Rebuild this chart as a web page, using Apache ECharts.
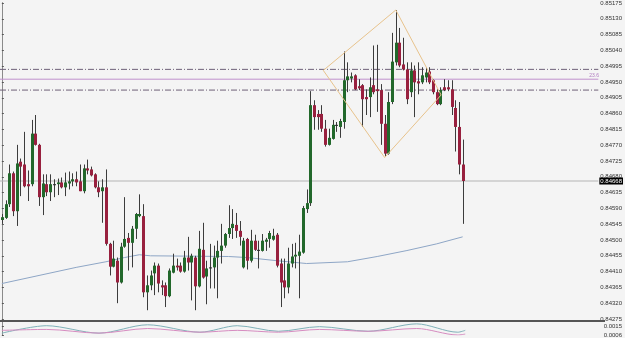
<!DOCTYPE html>
<html><head><meta charset="utf-8">
<script src="https://cdn.jsdelivr.net/npm/echarts/dist/echarts.min.js"></script>
<style>html,body{margin:0;padding:0;background:#f4f4f4}#c{width:625px;height:338px}</style>
</head><body><div id="c"></div>
<script>
// ---- data (prices) ----
const opens = [0.84557,0.84563,0.84602,0.84690,0.84582,0.84723,0.84715,0.84659,0.84659,0.84803,
0.84771,0.84622,0.84659,0.84636,0.84659,0.84659,0.84664,0.84650,0.84661,0.84667,
0.84673,0.84667,0.84639,0.84704,0.84701,0.84687,0.84650,0.84639,0.84650,0.84489,
0.84424,0.84441,0.84379,0.84481,0.84506,0.84492,0.84532,0.84568,0.84568,0.84351,
0.84371,0.84405,0.84427,0.84371,0.84371,0.84340,0.84407,0.84427,0.84427,0.84410,
0.84450,0.84436,0.84450,0.84368,0.84472,0.84396,0.84419,0.84422,0.84450,0.84469,
0.84484,0.84517,0.84534,0.84543,0.84526,0.84422,0.84503,0.84441,0.84498,0.84472,
0.84469,0.84495,0.84503,0.84501,0.84515,0.84433,0.84385,0.84365,0.84433,0.84453,
0.84455,0.84464,0.84588,0.84605,0.84884,0.84859,0.84859,0.84817,0.84771,0.84788,
0.84825,0.84822,0.84836,0.84955,0.84960,0.84969,0.84938,0.84941,0.84907,0.84907,
0.84941,0.84929,0.84927,0.84831,0.84746,0.84893,0.85006,0.85062,0.85000,0.84986,
0.84921,0.84983,0.84952,0.84949,0.84963,0.84980,0.84955,0.84921,0.84887,0.84935,
0.84935,0.84929,0.84876,0.84822,0.84715];
const closes = [0.84565,0.84602,0.84690,0.84582,0.84718,0.84709,0.84653,0.84653,0.84803,0.84771,
0.84622,0.84661,0.84636,0.84659,0.84656,0.84664,0.84650,0.84664,0.84667,0.84673,
0.84664,0.84639,0.84704,0.84698,0.84684,0.84650,0.84636,0.84650,0.84489,0.84424,
0.84447,0.84379,0.84481,0.84503,0.84492,0.84532,0.84574,0.84574,0.84351,0.84371,
0.84399,0.84427,0.84376,0.84365,0.84340,0.84413,0.84427,0.84422,0.84410,0.84450,
0.84436,0.84455,0.84368,0.84475,0.84393,0.84419,0.84422,0.84450,0.84469,0.84484,
0.84517,0.84534,0.84546,0.84526,0.84509,0.84498,0.84441,0.84498,0.84472,0.84469,
0.84498,0.84501,0.84520,0.84512,0.84427,0.84379,0.84365,0.84433,0.84453,0.84458,
0.84467,0.84591,0.84605,0.84884,0.84850,0.84850,0.84817,0.84771,0.84791,0.84828,
0.84828,0.84839,0.84955,0.84966,0.84966,0.84929,0.84932,0.84901,0.84901,0.84935,
0.84921,0.84924,0.84831,0.84746,0.84893,0.85008,0.85062,0.84997,0.84986,0.84901,
0.84983,0.84949,0.84946,0.84969,0.84977,0.84949,0.84921,0.84887,0.84927,0.84927,
0.84929,0.84879,0.84822,0.84715,0.84668];
const lows = [0.84546,0.84560,0.84594,0.84568,0.84540,0.84625,0.84650,0.84611,0.84653,0.84769,
0.84597,0.84571,0.84625,0.84611,0.84622,0.84628,0.84647,0.84625,0.84644,0.84653,
0.84653,0.84639,0.84633,0.84687,0.84681,0.84647,0.84622,0.84549,0.84484,0.84399,
0.84422,0.84320,0.84376,0.84478,0.84413,0.84422,0.84503,0.84565,0.84337,0.84300,
0.84357,0.84343,0.84351,0.84343,0.84309,0.84337,0.84405,0.84413,0.84407,0.84407,
0.84413,0.84328,0.84300,0.84365,0.84390,0.84317,0.84362,0.84362,0.84334,0.84433,
0.84478,0.84506,0.84503,0.84506,0.84484,0.84419,0.84416,0.84436,0.84469,0.84419,
0.84467,0.84469,0.84478,0.84498,0.84422,0.84309,0.84334,0.84348,0.84422,0.84419,
0.84334,0.84461,0.84577,0.84597,0.84814,0.84814,0.84808,0.84766,0.84769,0.84786,
0.84808,0.84791,0.84817,0.84921,0.84949,0.84927,0.84927,0.84822,0.84856,0.84850,
0.84915,0.84865,0.84771,0.84738,0.84743,0.84887,0.84997,0.84992,0.84983,0.84887,
0.84907,0.84850,0.84915,0.84944,0.84949,0.84944,0.84915,0.84884,0.84884,0.84924,
0.84924,0.84856,0.84752,0.84687,0.84546];
const highs = [0.84574,0.84613,0.84715,0.84695,0.84771,0.84732,0.84808,0.84698,0.84842,0.84856,
0.84774,0.84687,0.84687,0.84687,0.84673,0.84675,0.84678,0.84692,0.84695,0.84690,
0.84695,0.84715,0.84715,0.84729,0.84709,0.84690,0.84667,0.84673,0.84701,0.84492,
0.84498,0.84450,0.84492,0.84622,0.84520,0.84540,0.84577,0.84630,0.84602,0.84399,
0.84413,0.84436,0.84433,0.84385,0.84379,0.84419,0.84461,0.84447,0.84436,0.84469,
0.84509,0.84461,0.84455,0.84526,0.84549,0.84441,0.84489,0.84484,0.84498,0.84546,
0.84520,0.84599,0.84588,0.84577,0.84554,0.84506,0.84506,0.84529,0.84515,0.84498,
0.84517,0.84506,0.84526,0.84532,0.84520,0.84447,0.84447,0.84478,0.84489,0.84492,
0.84515,0.84597,0.84644,0.84924,0.84898,0.84870,0.84884,0.84842,0.84817,0.84842,
0.84836,0.84845,0.85037,0.85006,0.84977,0.84972,0.84958,0.84944,0.84929,0.84963,
0.85054,0.85056,0.84944,0.84856,0.84921,0.85090,0.85155,0.85104,0.85076,0.85006,
0.85006,0.84997,0.85006,0.84992,0.84992,0.84992,0.84958,0.84929,0.84935,0.84958,
0.84955,0.84955,0.84898,0.84893,0.84786];

// moving average, read at some bars
const maIndex = [0,10,20,28,33,37,40,61,66,74,82,93,101,109,117,124];
const maValue = [0.84376,0.84399,0.84422,0.84438,0.84450,0.84458,0.84455,0.84453,0.84450,0.84441,0.84433,0.84438,0.84453,0.84470,0.84489,0.84509];

// oscillator sub-window, read at some bars
const oscIndex = [0,12,26,39,53,63,74,85,98,111,122,124];
const oscTeal  = [0.0008,0.0016,0.0008,0.0017,0.0009,0.0016,0.0010,0.0015,0.0010,0.0018,0.0009,0.0011];
const oscPink  = [0.0011,0.0012,0.0008,0.0013,0.0009,0.0011,0.0009,0.0012,0.0010,0.0013,0.0006,0.0007];

// horizontal levels
const levelDashTop = 0.84986;
const levelFib236 = 0.84958;
const levelDashBottom = 0.84927;
const lastPrice = 0.84668;
const fibText = '23.6';

// diamond pattern vertices (bar index, price)
const diamondIndex = [86.5, 106, 118.2, 103, 86.5];
const diamondPrice = [0.84983, 0.85155, 0.84913, 0.84735, 0.84983];

// axis
const priceMin = 0.84275, priceMax = 0.85176, priceStep = 0.00045;
const oscMin = 0.0006, oscMax = 0.0020, oscStep = 0.0009;
const totalSlots = 161;

const GREEN = '#22682b', RED = '#98203e', WICK = '#3c3c3c';
const X0 = -0.5, X1 = totalSlots - 0.5;

const candleData = opens.map((o, i) => [i, o, closes[i], lows[i], highs[i]]);

function hLine(v, color, type, extra) {
  return Object.assign({
    type: 'line', xAxisIndex: 0, yAxisIndex: 0, symbol: 'none', silent: true, z: 2,
    data: [[X0, v], [X1, v]], lineStyle: {color: color, width: 1, type: type}
  }, extra || {});
}

const chart = echarts.init(document.getElementById('c'), null, {renderer: 'canvas'});
chart.setOption({
  animation: false,
  backgroundColor: '#f4f4f4',
  grid: [
    {left: 0, right: 20, top: 0, height: 319},
    {left: 0, right: 20, top: 322, height: 14}
  ],
  xAxis: [
    {type: 'value', gridIndex: 0, min: X0, max: X1, show: false},
    {type: 'value', gridIndex: 1, min: X0, max: X1, show: false}
  ],
  yAxis: [
    {type: 'value', gridIndex: 0, position: 'right', min: priceMin, max: priceMax, interval: priceStep,
     axisLine: {show: true, lineStyle: {color: '#8a8a8a', width: 1}},
     axisTick: {show: true, length: 2, lineStyle: {color: '#555'}},
     splitLine: {show: false},
     axisLabel: {fontSize: 6, color: '#333', margin: 2, fontFamily: 'Liberation Sans',
       showMaxLabel: false, formatter: v => v.toFixed(5)}},
    {type: 'value', gridIndex: 1, position: 'right', min: oscMin, max: oscMax, interval: oscStep,
     axisLine: {show: true, lineStyle: {color: '#8a8a8a', width: 1}},
     axisTick: {show: true, length: 2, lineStyle: {color: '#555'}},
     splitLine: {show: false},
     axisLabel: {fontSize: 6, color: '#333', margin: 2, fontFamily: 'Liberation Sans',
       showMaxLabel: false, formatter: v => v.toFixed(4)}}
  ],
  graphic: [
    {type: 'rect', left: 0, top: 320, shape: {width: 605, height: 2}, style: {fill: '#555'}, z: 100}
  ],
  series: [
    {
      type: 'line', xAxisIndex: 0, yAxisIndex: 0, symbol: 'none', silent: true,
      data: maIndex.map((i, k) => [i, maValue[k]]),
      lineStyle: {color: '#8ea6c6', width: 1}, z: 1
    },
    hLine(levelDashTop, '#6e6078', [6, 2, 1, 2]),
    hLine(levelDashBottom, '#6e6078', [6, 2, 1, 2]),
    hLine(levelFib236, '#bf90cc', 'solid', {
      endLabel: {show: true, formatter: fibText, fontSize: 5, color: '#b07cc0', fontFamily: 'Liberation Sans',
                 offset: [-9, -4], distance: 0}
    }),
    hLine(lastPrice, '#b4b4b4', 'solid', {
      endLabel: {show: true, formatter: lastPrice.toFixed(5), fontSize: 6, color: '#fff', fontFamily: 'Liberation Sans',
                 backgroundColor: '#000', padding: [1, 1, 0, 1], distance: 1}
    }),
    {
      type: 'custom', xAxisIndex: 0, yAxisIndex: 0, z: 3,
      data: candleData,
      encode: {x: 0, y: [1, 2, 3, 4]},
      renderItem: function (params, api) {
        const i = api.value(0), o = api.value(1), c = api.value(2), l = api.value(3), h = api.value(4);
        const pO = api.coord([i, o]), pC = api.coord([i, c]);
        const pL = api.coord([i, l]), pH = api.coord([i, h]);
        const x = Math.round(pO[0]) + 0.5;
        const top = Math.min(pO[1], pC[1]), bot = Math.max(pO[1], pC[1]);
        const doji = bot - top < 1.5;
        const fill = doji ? '#2a2a2a' : (c >= o ? GREEN : RED);
        return {type: 'group', children: [
          {type: 'line', shape: {x1: x, y1: pH[1], x2: x, y2: pL[1]}, style: {stroke: WICK, lineWidth: 1}},
          {type: 'rect', shape: {x: x - 1.5, y: top, width: 3, height: Math.max(bot - top, 1)}, style: {fill: fill}}
        ]};
      }
    },
    {
      type: 'line', xAxisIndex: 0, yAxisIndex: 0, symbol: 'none', silent: true, z: 4,
      data: diamondIndex.map((i, k) => [i, diamondPrice[k]]),
      lineStyle: {color: '#e8c38c', width: 1}
    },
    {
      type: 'line', xAxisIndex: 1, yAxisIndex: 1, symbol: 'none', silent: true, smooth: 0.3,
      data: oscIndex.map((i, k) => [i, oscTeal[k]]),
      lineStyle: {color: '#7fb0b8', width: 1}
    },
    {
      type: 'line', xAxisIndex: 1, yAxisIndex: 1, symbol: 'none', silent: true, smooth: 0.3,
      data: oscIndex.map((i, k) => [i, oscPink[k]]),
      lineStyle: {color: '#d68cc0', width: 1}
    }
  ]
});
</script></body></html>
